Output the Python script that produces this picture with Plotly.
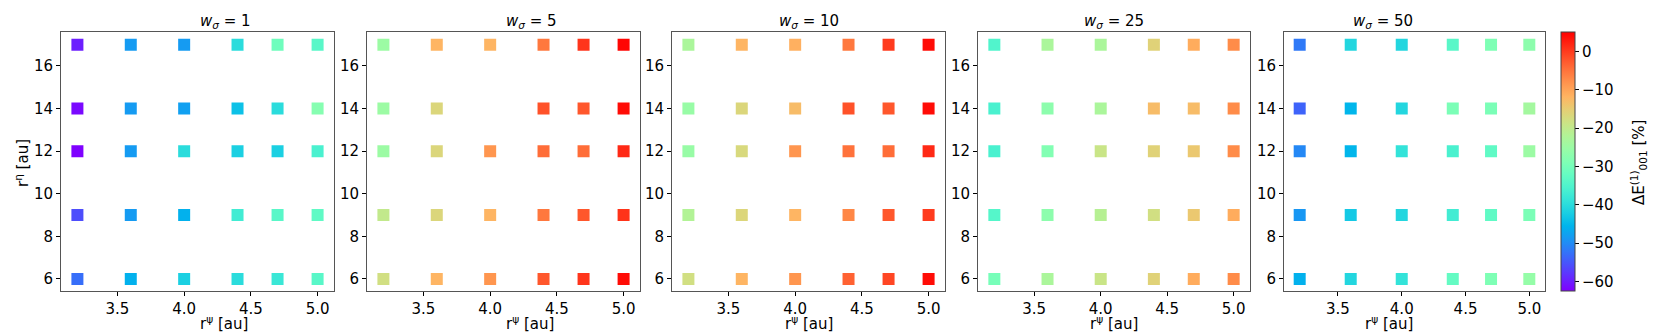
import math
import plotly.graph_objects as go

# grid of the scan
r_psi = [3.2, 3.6, 4.0, 4.4, 4.7, 5.0]
r_eta = [17, 14, 12, 9, 6]
w_sigma = [1, 5, 10, 25, 50]

# dE_001^(1) in %, rows follow r_eta, columns follow r_psi
dE_w1 = [
    [-60.0, -48.5, -48.5, -40.0, -31.0, -34.0],
    [-61.8, -48.5, -48.0, -44.0, -40.0, -28.0],
    [-62.5, -48.5, -40.0, -42.0, -42.0, -36.0],
    [-56.0, -48.5, -46.0, -37.0, -34.0, -33.0],
    [-53.0, -46.0, -42.0, -40.0, -38.0, -34.0],
]
dE_w5 = [
    [-25.0, -12.0, -12.0, -5.5, 0.5, 4.5],
    [-25.0, -16.6, None, -2.0, -2.5, 4.0],
    [-25.0, -16.6, -8.5, -4.5, -4.5, 1.5],
    [-20.0, -16.6, -12.0, -5.5, -2.5, 0.7],
    [-18.0, -12.0, -8.5, -2.5, 0.5, 4.0],
]
dE_w10 = [
    [-23.0, -12.0, -11.5, -5.5, 0.0, 4.0],
    [-25.5, -16.6, -13.0, -2.0, -2.5, 4.0],
    [-25.5, -17.0, -8.5, -5.0, -4.5, 1.5],
    [-22.0, -16.5, -12.0, -7.0, -2.5, 0.0],
    [-18.0, -12.0, -8.5, -3.5, -1.0, 4.0],
]
dE_w25 = [
    [-35.0, -23.0, -23.0, -16.0, -11.0, -7.5],
    [-36.0, -27.0, -23.0, -13.0, -13.0, -7.5],
    [-36.0, -28.5, -19.0, -16.0, -14.5, -7.5],
    [-34.5, -27.0, -21.5, -18.0, -14.5, -11.0],
    [-30.0, -23.0, -19.0, -16.0, -11.0, -7.5],
]
dE_w50 = [
    [-52.0, -41.0, -41.0, -34.0, -29.0, -27.0],
    [-54.0, -45.5, -41.0, -29.5, -29.5, -24.0],
    [-50.5, -45.5, -39.0, -36.0, -33.0, -25.0],
    [-49.0, -43.0, -41.0, -37.0, -33.0, -29.5],
    [-46.0, -41.0, -39.0, -32.5, -29.0, -26.0],
]
panels = [dE_w1, dE_w5, dE_w10, dE_w25, dE_w50]

cmin, cmax = -62.6, 5.0


def rainbow(t):
    # matplotlib "rainbow" colormap
    r = min(1, abs(2 * t - 0.5))
    g = math.sin(math.pi * t)
    b = math.cos(math.pi * t / 2)
    return "rgb(%d,%d,%d)" % (round(r * 255), round(g * 255), round(max(b, 0) * 255))


colorscale = [[i / 20, rainbow(i / 20)] for i in range(21)]

W, H = 1661, 332
x_px = [(53, 326), (359, 632), (664, 937), (970, 1242), (1276, 1537)]
y_dom = [1 - 283.3 / H, 1 - 24.3 / H]
font = dict(family="DejaVu Sans", size=15, color="black")

fig = go.Figure()
for i, data in enumerate(panels):
    xs, ys, cs = [], [], []
    for j, yv in enumerate(r_eta):
        for k, xv in enumerate(r_psi):
            if data[j][k] is None:
                continue
            xs.append(xv)
            ys.append(yv)
            cs.append(data[j][k])
    n = "" if i == 0 else str(i + 1)
    fig.add_trace(go.Scatter(
        x=xs, y=ys, mode="markers", xaxis="x" + n, yaxis="y" + n,
        marker=dict(symbol="square", size=12, color=cs, colorscale=colorscale,
                    cmin=cmin, cmax=cmax, line=dict(width=0),
                    showscale=(i == 4),
                    colorbar=dict(x=1553 / W, xanchor="left", thickness=14,
                                  xpad=0, ypad=0,
                                  len=(283.3 - 24.3) / H, lenmode="fraction",
                                  y=y_dom[0], yanchor="bottom",
                                  outlinewidth=1, outlinecolor="#444",
                                  tickvals=[-60, -50, -40, -30, -20, -10, 0],
                                  ticktext=["\u221260", "\u221250", "\u221240", "\u221230",
                                            "\u221220", "\u221210", "0"],
                                  ticks="outside", ticklen=4, tickcolor="black",
                                  tickfont=font)),
        showlegend=False,
    ))
    ax = dict(domain=[x_px[i][0] / W, x_px[i][1] / W], range=[3.077, 5.123],
              tickvals=[3.5, 4.0, 4.5, 5.0], tickformat=".1f",
              showline=True, mirror=True, linecolor="#555", linewidth=1,
              ticks="outside", ticklen=4, tickcolor="black",
              showgrid=False, zeroline=False, tickfont=font,
              anchor="y" + n)
    ay = dict(domain=y_dom, range=[5.42, 17.58], tickvals=[6, 8, 10, 12, 14, 16],
              showline=True, mirror=True, linecolor="#555", linewidth=1,
              ticks="outside", ticklen=4, tickcolor="black",
              showgrid=False, zeroline=False, tickfont=font,
              anchor="x" + n)
    fig.update_layout({"xaxis" + n: ax, "yaxis" + n: ay})
    cx = (x_px[i][0] + x_px[i][1]) / 2 / W
    fig.add_annotation(x=cx, y=1 - 13 / H, xref="paper", yref="paper",
                       text="<i>w</i><sub><i>\u03c3</i></sub> = %d" % w_sigma[i],
                       showarrow=False, font=font, yanchor="middle")
    fig.add_annotation(x=cx, y=1 - 303 / H, xref="paper", yref="paper",
                       text="r<sup>\u03c8</sup> [au]",
                       showarrow=False, font=font, yanchor="top")

fig.add_annotation(x=14 / W, y=1 - 155 / H, xref="paper", yref="paper",
                   text="r<sup>\u03b7</sup> [au]", textangle=-90,
                   showarrow=False, font=font, xanchor="center", yanchor="middle")
fig.add_annotation(x=1630 / W, y=1 - 155 / H, xref="paper", yref="paper",
                   text="\u0394E<sup>(1)</sup><sub>001</sub> [%]", textangle=-90,
                   showarrow=False, font=font, xanchor="center", yanchor="middle")

fig.update_layout(width=W, height=H, margin=dict(l=0, r=0, t=0, b=0),
                  paper_bgcolor="white", plot_bgcolor="white", font=font)
fig.write_html("out.html")
